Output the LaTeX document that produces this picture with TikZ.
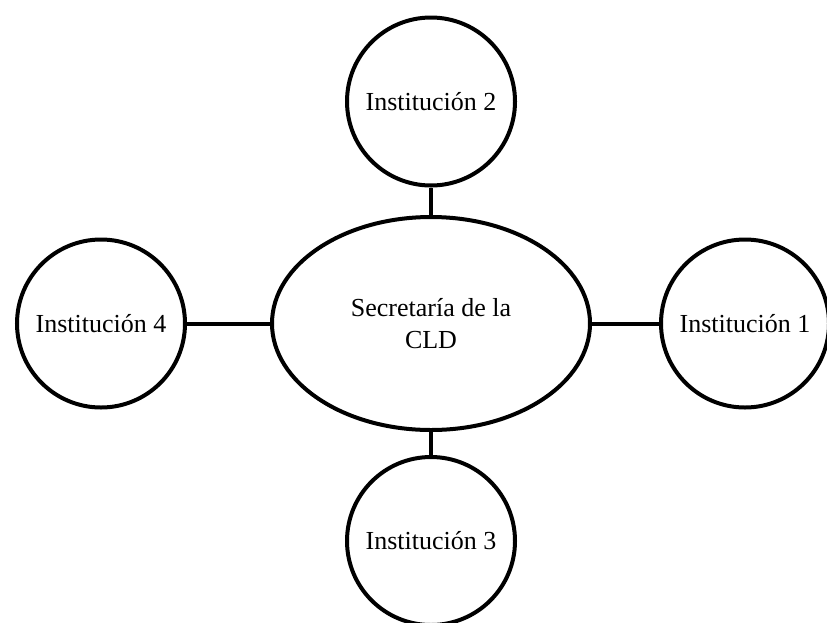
\documentclass[tikz,border=0pt]{standalone}
\usepackage{fontspec}
\setmainfont{Liberation Serif}
\usetikzlibrary{shapes.geometric}
\begin{document}
\begin{tikzpicture}[x=1pt,y=-1pt,
  inst/.style={draw, circle, line width=4pt, minimum size=168pt, inner sep=0pt,
    font=\fontsize{26}{30}\selectfont},
  hub/.style={draw, ellipse, line width=4pt, minimum width=318pt, minimum height=213pt,
    inner sep=0pt, align=center, font=\fontsize{26}{32}\selectfont},
  link/.style={line width=4pt}]
\clip (0,0) rectangle (827,622);
\useasboundingbox (0,0) rectangle (827,622);
\node[hub] (sec) at (431,323.5) {Secretaría de la\\CLD};
\node[inst] (i2) at (431,101.5) {Institución 2};
\node[inst] (i4) at (101,323.5) {Institución 4};
\node[inst] (i1) at (745,323.5) {Institución 1};
\node[inst] (i3) at (431,541) {Institución 3};
\draw[link] (i2) -- (sec);
\draw[link] (i3) -- (sec);
\draw[link] (i4) -- (sec);
\draw[link] (i1) -- (sec);
\end{tikzpicture}
\end{document}
